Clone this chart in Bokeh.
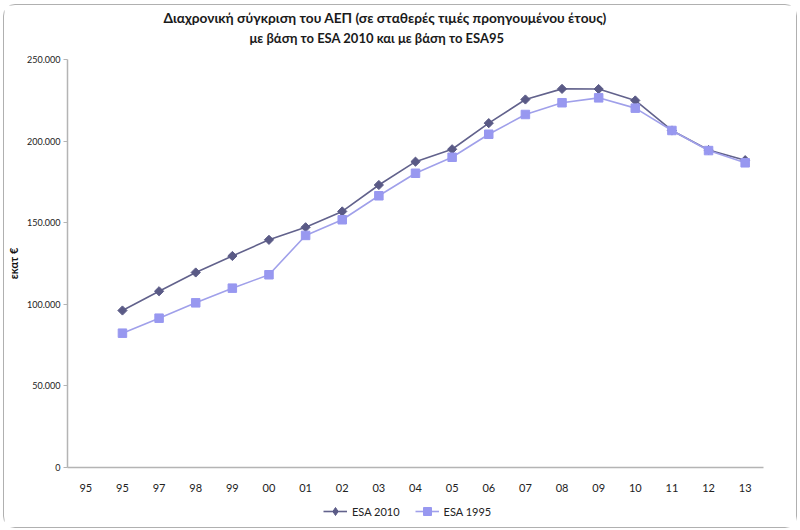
import math
from bokeh.plotting import figure
from bokeh.layouts import column
from bokeh.models import (FixedTicker, Title, Legend, LegendItem, ColumnDataSource, Range1d)
from bokeh.embed import file_html
from bokeh.resources import INLINE

# ---- data ----
categories = ["95", "95", "97", "98", "99", "00", "01", "02", "03", "04", "05",
              "06", "07", "08", "09", "10", "11", "12", "13"]
esa_2010 = [None, 96200, 108000, 119500, 129600, 139500, 147200, 156900, 173100,
            187400, 195000, 211000, 225500, 232000, 231900, 224900, 206500, 194500, 188300]
esa_1995 = [None, 82300, 91500, 100900, 109900, 118100, 142200, 151800, 166500,
            180300, 190100, 204200, 216300, 223500, 226500, 220200, 206500, 194200, 186700]
y_ticks = [0, 50000, 100000, 150000, 200000, 250000]
y_tick_labels = ["0", "50.000", "100.000", "150.000", "200.000", "250.000"]
title_line1 = "Διαχρονική σύγκριση του ΑΕΠ (σε σταθερές τιμές προηγουμένου έτους)"
title_line2 = "με βάση το ESA 2010 και με βάση το ESA95"
y_label = "εκατ €"
series_names = ["ESA 2010", "ESA 1995"]

FONT = "Lato"
C_DARK = "#5a5a86"
C_DARK_LINE = "#62628c"
C_LIGHT = "#9898f0"
C_LIGHT_LINE = "#a0a0ea"
AXIS_C = "#b4b4b4"

xs = list(range(len(categories)))


def nanify(v):
    return [float("nan") if a is None else a for a in v]


src = ColumnDataSource(dict(x=xs, a=nanify(esa_2010), b=nanify(esa_1995)))

p = figure(width=792, height=492, output_backend="svg", toolbar_location=None,
           x_range=Range1d(-0.5, len(categories) - 0.5), y_range=Range1d(0, 250000),
           min_border_left=63, min_border_right=33, min_border_top=54, min_border_bottom=30)
p.title = None
p.outline_line_color = None
p.background_fill_color = "white"
p.border_fill_color = "white"
p.xgrid.grid_line_color = None
p.ygrid.grid_line_color = None

# titles (first added sits nearest to the plot); a tiny spacer first
p.add_layout(Title(text=" ", text_font_size="1px", standoff=9), "above")
p.add_layout(Title(text=title_line2, align="left", text_font=FONT, text_font_size="13px",
                   text_font_style="bold", text_color="#1a1a1a", offset=182, standoff=4), "above")
p.add_layout(Title(text=title_line1, align="left", text_font=FONT, text_font_size="13.7px",
                   text_font_style="bold", text_color="#1a1a1a", offset=96, standoff=0), "above")

# axes
p.xaxis.ticker = FixedTicker(ticks=xs)
p.xaxis.major_label_overrides = {i: c for i, c in enumerate(categories)}
p.xaxis.major_tick_out = 0
p.xaxis.major_tick_in = 0
p.xaxis.minor_tick_line_color = None
p.xaxis.axis_line_color = AXIS_C
p.xaxis.axis_line_width = 1.5
p.xaxis.major_label_standoff = 16
p.xaxis.major_label_text_font = FONT
p.xaxis.major_label_text_font_size = "11px"
p.xaxis.major_label_text_color = "#222222"

p.yaxis.ticker = FixedTicker(ticks=y_ticks)
p.yaxis.major_label_overrides = {t: l for t, l in zip(y_ticks, y_tick_labels)}
p.yaxis.major_tick_out = 4
p.yaxis.major_tick_in = 0
p.yaxis.major_tick_line_color = AXIS_C
p.yaxis.minor_tick_line_color = None
p.yaxis.axis_line_color = AXIS_C
p.yaxis.axis_line_width = 1.5
p.yaxis.major_label_standoff = 3
p.yaxis.major_label_text_font = FONT
p.yaxis.major_label_text_font_size = "9px"
p.yaxis.major_label_text_color = "#222222"
p.yaxis.axis_label = y_label
p.yaxis.axis_label_text_font = FONT
p.yaxis.axis_label_text_font_size = "11px"
p.yaxis.axis_label_text_font_style = "bold"
p.yaxis.axis_label_text_color = "#111111"
p.yaxis.axis_label_standoff = 4

# series
p.line("x", "a", source=src, line_color=C_DARK_LINE, line_width=1.6)
p.scatter("x", "a", source=src, marker="square", angle=math.pi / 4, size=6.5,
          fill_color=C_DARK, line_color=C_DARK)
p.line("x", "b", source=src, line_color=C_LIGHT_LINE, line_width=1.6)
p.scatter("x", "b", source=src, marker="square", size=8.5, fill_color=C_LIGHT,
          line_color=C_LIGHT)

# legend strip below the chart (its renderers use the same data, out of its view)
pl = figure(width=792, height=30, output_backend="svg", toolbar_location=None,
            x_range=Range1d(-1000, -999), y_range=Range1d(-1000, -999),
            x_axis_location=None, y_axis_location=None,
            min_border_left=0, min_border_right=0, min_border_top=0, min_border_bottom=0)
pl.outline_line_color = None
pl.xgrid.grid_line_color = None
pl.ygrid.grid_line_color = None
el1 = pl.line("x", "a", source=src, line_color=C_DARK_LINE, line_width=1.6)
em1 = pl.scatter("x", "a", source=src, marker="diamond", size=11,
                 fill_color=C_DARK, line_color=C_DARK)
el2 = pl.line("x", "b", source=src, line_color=C_LIGHT_LINE, line_width=1.6)
em2 = pl.scatter("x", "b", source=src, marker="square", size=8.5,
                 fill_color=C_LIGHT, line_color=C_LIGHT)
legend = Legend(items=[LegendItem(label=series_names[0], renderers=[el1, em1]),
                       LegendItem(label=series_names[1], renderers=[el2, em2])],
                orientation="horizontal", location=(256, 6),
                label_text_font=FONT, label_text_font_size="11px", label_text_color="#222222",
                glyph_width=24, glyph_height=20, label_height=20, label_standoff=5, spacing=15,
                padding=0, margin=0, border_line_color=None, background_fill_alpha=0)
pl.add_layout(legend, "center")

layout = column(p, pl, spacing=0,
                styles={"border": "1px solid #b0b0b0", "border-radius": "12px",
                        "margin-left": "3px", "margin-top": "4px", "background": "white"})

open("out.html", "w").write(file_html(layout, INLINE))
